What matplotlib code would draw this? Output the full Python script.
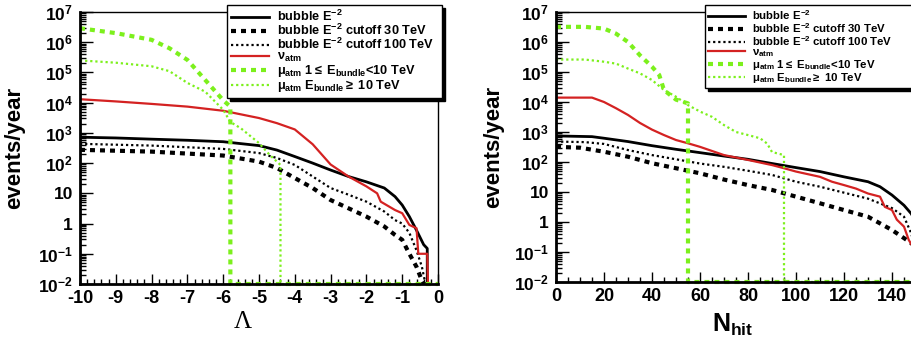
import numpy as np
import matplotlib
matplotlib.use("Agg")
import matplotlib.pyplot as plt
from matplotlib.ticker import LogLocator, MultipleLocator, FuncFormatter, NullFormatter

plt.rcParams['font.family'] = ['Liberation Sans', 'DejaVu Sans']
plt.rcParams['font.weight'] = 'bold'
plt.rcParams['mathtext.fontset'] = 'custom'
plt.rcParams['mathtext.bf'] = 'Liberation Sans:bold'
plt.rcParams['mathtext.rm'] = 'Liberation Sans'
plt.rcParams['mathtext.it'] = 'Liberation Sans:bold'
plt.rcParams['mathtext.default'] = 'bf'
plt.rcParams['axes.unicode_minus'] = False

# ---- left panel: Lambda ----
lam_bub = [-10, -9, -8, -7, -6, -5, -4.5, -4, -3.5, -3, -2.5, -2, -1.5, -1.2, -1.0, -0.8, -0.6, -0.4, -0.3, -0.3]
ev_bub = [720, 680, 620, 570, 510, 380, 270, 165, 100, 59, 36, 24, 15, 7.8, 4.1, 1.7, 0.6, 0.2, 0.15, 0.01]

lam_c30 = [-10, -8, -6, -5, -4.5, -4, -3.5, -3, -2.5, -2, -1.5, -1.2, -1.0, -0.8, -0.6, -0.45, -0.4]
ev_c30 = [275, 240, 178, 112, 69, 32, 15, 6, 3.2, 1.7, 0.8, 0.42, 0.29, 0.1, 0.037, 0.013, 0.01]

lam_c100 = [-10, -8, -6, -5, -4.5, -4, -3.5, -3, -2.5, -2, -1.5, -1.2, -1.0, -0.8, -0.6, -0.45, -0.35]
ev_c100 = [435, 380, 295, 215, 148, 87, 36, 15, 9, 5.3, 2.5, 1.3, 1.0, 0.49, 0.13, 0.037, 0.01]

lam_nu = [-10, -9, -8, -7, -6, -5, -4.5, -4, -3.5, -3, -2.5, -2, -1.7, -1.6, -1.2, -1.0, -0.8, -0.6, -0.55, -0.3, -0.28]
ev_nu = [13000, 11000, 9100, 7400, 5400, 3100, 2100, 1300, 420, 90, 36, 17, 10, 5.3, 2.8, 2.2, 0.9, 0.7, 0.1, 0.1, 0.01]

lam_mu1 = [-10, -9, -8, -7.5, -7, -6.5, -6, -5.8, -5.8, 0]
ev_mu1 = [2.9e6, 2.0e6, 1.2e6, 6.3e5, 2.6e5, 5.6e4, 1.2e4, 7400, 0.01, 0.01]

lam_mu10 = [-10, -9, -8, -7.5, -7, -6.5, -6, -5.8, -5.5, -5, -4.7, -4.4, -4.4, 0]
ev_mu10 = [2.5e5, 2.1e5, 1.6e5, 1.1e5, 4.5e4, 2.3e4, 5800, 2300, 1400, 460, 186, 87, 0.01, 0.01]

# ---- right panel: Nhit ----
n_bub = [0, 15, 20, 30, 40, 50, 60, 70, 80, 90, 100, 110, 120, 130, 135, 140, 145, 148, 150]
nev_bub = [740, 700, 620, 480, 350, 265, 205, 158, 123, 89, 65, 48, 32, 22, 15, 7.9, 3.6, 1.9, 1.0]

n_c30 = [0, 10, 20, 30, 40, 50, 60, 70, 80, 90, 100, 110, 120, 130, 140, 145, 148, 150]
nev_c30 = [320, 300, 220, 150, 91, 62, 42, 26, 17, 11.7, 7, 4.2, 2.5, 1.5, 0.54, 0.29, 0.2, 0.1]

n_c100 = [0, 12, 20, 30, 40, 50, 60, 70, 80, 90, 100, 110, 120, 130, 140, 145, 148, 150]
nev_c100 = [480, 460, 400, 250, 170, 123, 89, 69, 51, 37, 22, 15, 9.5, 6, 2.9, 1.5, 0.42, 0.1]

n_nu = [0, 15, 20, 25, 30, 35, 40, 45, 50, 55, 60, 70, 80, 90, 95, 100, 110, 115, 120, 125, 130, 135, 137, 140, 142, 145, 147, 150]
nev_nu = [1.4e4, 1.4e4, 1e4, 6200, 3700, 2000, 1200, 790, 540, 420, 320, 170, 117, 79, 62, 48, 32, 22, 17, 13, 8.9, 7, 3.2, 2.5, 1.2, 0.7, 0.25, 0.1]

n_mu1 = [0, 12, 20, 25, 30, 35, 40, 43, 45, 50, 55, 55, 150]
nev_mu1 = [3.2e6, 3.2e6, 2.8e6, 1.9e6, 1e6, 3.6e5, 1.5e5, 8e4, 2.5e4, 1.2e4, 9e3, 0.01, 0.01]

n_mu10 = [0, 12, 20, 25, 30, 35, 40, 45, 50, 55, 60, 65, 70, 75, 80, 85, 88, 90, 95, 95, 150]
nev_mu10 = [2.6e5, 2.6e5, 2.2e5, 1.9e5, 1.3e5, 9e4, 5.4e4, 2.5e4, 1.5e4, 7.9e3, 4.8e3, 3.2e3, 1.7e3, 1e3, 790, 620, 410, 215, 170, 0.01, 0.01]

labels = [r'bubble E$^{-2}$',
          r'bubble E$^{-2}$ cutoff 30 TeV',
          r'bubble E$^{-2}$ cutoff 100 TeV',
          r'$\mathrm{\nu}_{atm}$',
          r'$\mathrm{\mu}_{atm}$ 1$\leq$ E$_{bundle}$<10 TeV',
          r'$\mathrm{\mu}_{atm}$ E$_{bundle}$$\geq$ 10 TeV']

green = '#7cf01c'
red = '#d42222'
styles = [dict(color='k', lw=2.0, ls='-'),
          dict(color='k', lw=3.0, ls=(0, (1.2, 1.2))),
          dict(color='k', lw=1.6, ls=(0, (1, 1.3))),
          dict(color=red, lw=1.6, ls='-'),
          dict(color=green, lw=3.0, ls=(0, (1.2, 1.2)), clip_on=False),
          dict(color=green, lw=1.6, ls=(0, (1, 1.3)), clip_on=False)]

fig = plt.figure(figsize=(9.11, 3.43), dpi=100)
axL = fig.add_axes([80 / 911, 1 - 284 / 343, 358 / 911, 272 / 343])
axR = fig.add_axes([556 / 911, 1 - 282 / 343, 360 / 911, 270 / 343])

left_series = [(lam_bub, ev_bub), (lam_c30, ev_c30), (lam_c100, ev_c100),
               (lam_nu, ev_nu), (lam_mu1, ev_mu1), (lam_mu10, ev_mu10)]
right_series = [(n_bub, nev_bub), (n_c30, nev_c30), (n_c100, nev_c100),
                (n_nu, nev_nu), (n_mu1, nev_mu1), (n_mu10, nev_mu10)]


def ylab(v, pos):
    e = int(round(np.log10(v)))
    if e == 0:
        return '1'
    if e == 1:
        return '10'
    return r'$10^{%d}$' % e


for ax, series in ((axL, left_series), (axR, right_series)):
    for (x, y), st, lab in zip(series, styles, labels):
        ax.plot(x, y, label=lab, **st)
    ax.set_yscale('log')
    ax.set_ylim(1e-2, 1e7)
    ax.yaxis.set_major_locator(LogLocator(base=10, numticks=20))
    ax.yaxis.set_minor_locator(LogLocator(base=10, subs=np.arange(2, 10), numticks=20))
    ax.yaxis.set_major_formatter(FuncFormatter(ylab))
    ax.yaxis.set_minor_formatter(NullFormatter())
    ax.tick_params(which='both', direction='in', top=False, right=False, width=1)
    ax.tick_params(axis='y', which='major', length=9, pad=5, labelsize=12.5)
    ax.tick_params(axis='y', which='minor', length=4.5)
    ax.tick_params(axis='x', which='major', length=7, pad=4, labelsize=13)
    ax.tick_params(axis='x', which='minor', length=3.5)
    for s in ax.spines.values():
        s.set_linewidth(1.0)
    ax.spines['bottom'].set_linewidth(2)
    ax.spines['left'].set_linewidth(2)
    ax.set_ylabel('events/year', fontsize=16, fontweight='bold')

axL.set_xlim(-10, 0)
axL.xaxis.set_major_locator(MultipleLocator(1))
axL.xaxis.set_minor_locator(MultipleLocator(0.2))
axL.set_xlabel('Λ', fontsize=18, family='Liberation Serif', fontweight='normal')
axL.xaxis.set_label_coords(0.455, -0.1)
axL.yaxis.set_label_coords(-0.152, 0.5)

axR.set_xlim(0, 150)
axR.xaxis.set_major_locator(MultipleLocator(20))
axR.xaxis.set_minor_locator(MultipleLocator(5))
axR.set_xlabel(r'N$_{hit}$', fontsize=18, fontweight='bold')
axR.xaxis.set_label_coords(0.49, -0.11)
axR.yaxis.set_label_coords(-0.145, 0.5)

legkw = dict(loc='upper left', mode='expand', borderaxespad=0, fancybox=False,
             edgecolor='k', framealpha=1, shadow={'color': 'k', 'alpha': 1},
             handletextpad=0.6, labelspacing=-0.08,
             borderpad=0.3, bbox_transform=fig.transFigure)
lgL = axL.legend(bbox_to_anchor=(227 / 911, 1 - 98 / 343, 215 / 911, 93 / 343),
                 fontsize=9.2, handlelength=3.0, **legkw)
lgR = axR.legend(bbox_to_anchor=(705 / 911, 1 - 92 / 343, 215 / 911, 87 / 343),
                 fontsize=8.2, handlelength=3.2, **legkw)
for lg in (lgL, lgR):
    lg.get_frame().set_linewidth(1.0)

fig.savefig('out.png', dpi=100)
